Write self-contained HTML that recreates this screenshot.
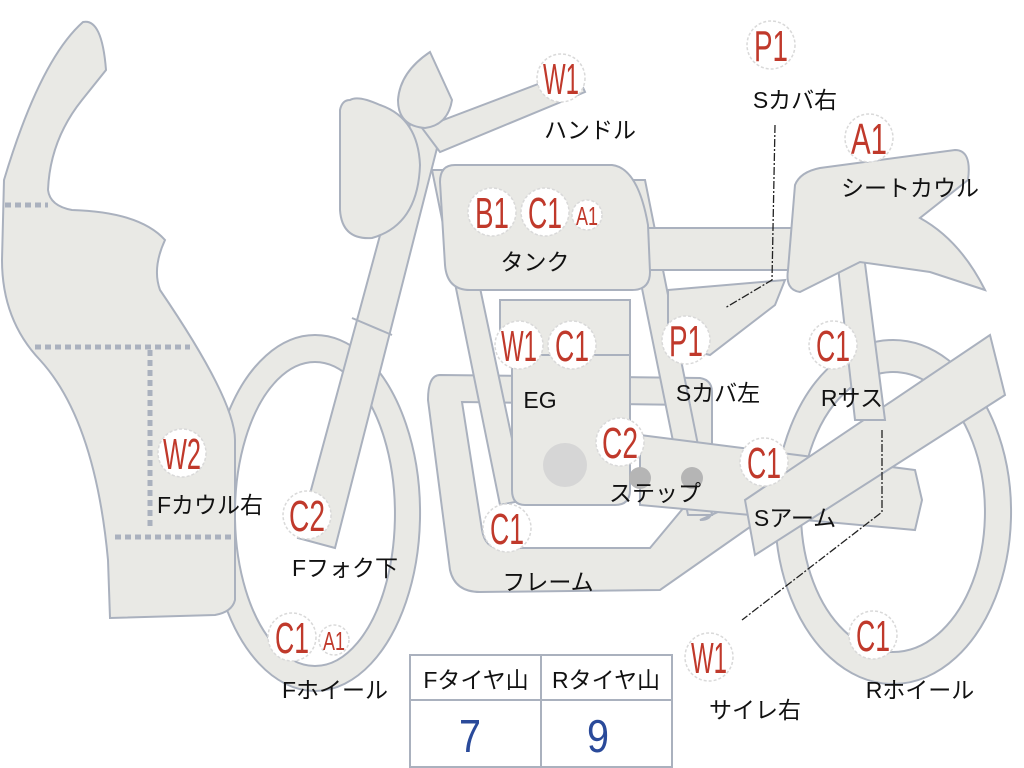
<!DOCTYPE html>
<html><head><meta charset="utf-8"><style>
html,body{margin:0;padding:0;background:#fff}
svg{display:block}
.s{fill:#e9e9e5;stroke:#aab1be;stroke-width:2}
.b circle{fill:#fff;stroke:#d9d9d9;stroke-width:1.5;stroke-dasharray:3 2}
.b text{fill:#c0392b;font-family:"Liberation Sans",sans-serif;font-size:44px;text-anchor:middle}
.l{font-family:"Liberation Sans","Noto Sans CJK JP",sans-serif;font-size:23px;fill:#111;text-anchor:middle}
</style></head><body>
<svg width="1024" height="768" viewBox="0 0 1024 768">
<path class="s" fill-rule="evenodd" d="M315,335 a105,178 0 1,0 0.1,0 Z M315,362 a80,152 0 1,1 -0.1,0 Z"/>
<path class="s" fill-rule="evenodd" d="M893,340 a118,172 0 1,0 0.1,0 Z M893,372 a92,140 0 1,1 -0.1,0 Z"/>
<path class="s" d="M83,22 Q102,18 106,70 L82,100 Q50,140 48,190 Q50,206 72,210 Q140,212 165,240 Q152,268 160,290 Q235,400 235,440 L235,600 Q232,612 215,615 L110,618 L108,560 Q95,420 40,360 Q2,320 2,260 L4,180 Q40,60 83,22 Z"/>
<g stroke="#aab1be" stroke-width="5" stroke-dasharray="6 4" fill="none">
<path d="M5,205 H48"/><path d="M35,347 H190"/><path d="M150,350 V530"/><path d="M115,537 H235"/>
</g>
<path class="s" d="M440,375 L700,378 Q712,380 712,392 L712,510 Q712,520 700,520 L745,500 L760,520 L660,590 L480,592 Q455,592 450,570 L428,400 Q428,375 440,375 Z"/>
<path d="M462,402 L690,405 L690,500 L650,548 L500,548 Q485,548 482,530 Z" fill="#fff" stroke="#aab1be" stroke-width="2"/>
<polygon class="s" points="432,170 455,170 525,500 500,505"/>
<polygon class="s" points="620,180 645,180 712,515 688,515"/>
<rect class="s" x="500" y="300" width="130" height="55"/>
<path class="s" d="M512,355 H630 V490 Q630,505 615,505 H525 Q512,505 512,490 Z"/>
<circle cx="565" cy="465" r="22" fill="#d6d6d6"/>
<polygon class="s" points="640,435 915,470 922,500 915,530 640,505"/>
<circle cx="640" cy="478" r="11" fill="#b5b5b5"/><circle cx="692" cy="478" r="11" fill="#b5b5b5"/>
<polygon class="s" points="745,500 990,335 1005,395 755,555"/>
<polygon class="s" points="835,240 862,240 885,420 855,420"/>
<rect class="s" x="638" y="228" width="165" height="42" rx="8"/>
<polygon class="s" points="668,290 785,280 775,305 710,355 668,345"/>
<path class="s" d="M795,185 Q800,172 820,168 L955,150 Q972,150 968,180 L920,218 Q960,240 985,290 L930,272 L860,262 L800,292 Q785,290 788,270 Z"/>
<path class="s" d="M455,165 H612 Q638,168 648,225 L650,272 Q650,290 632,290 H470 Q447,290 445,265 L440,182 Q440,165 455,165 Z"/>
<polygon class="s" points="418,95 448,105 335,548 298,538"/>
<line x1="352" y1="318" x2="392" y2="335" stroke="#aab1be" stroke-width="2"/>
<polygon class="s" points="422,128 575,70 585,92 440,152"/>
<path class="s" d="M350,100 Q358,95 380,105 Q418,118 420,165 Q418,225 372,238 Q342,240 340,210 L340,110 Q342,100 350,100 Z"/>
<path class="s" d="M430,52 L452,100 Q448,125 425,128 Q398,126 398,100 Q400,72 430,52 Z"/>
<path d="M775,125 L772,280 L725,308" fill="none" stroke="#222" stroke-width="1.3" stroke-dasharray="8 2 2 2"/>
<path d="M882,430 L882,512 L742,620" fill="none" stroke="#222" stroke-width="1.3" stroke-dasharray="8 2 2 2"/>
<rect x="410" y="655" width="262" height="112" fill="#fff" stroke="#aab1be" stroke-width="2"/>
<line x1="410" y1="700" x2="672" y2="700" stroke="#aab1be" stroke-width="2"/>
<line x1="541" y1="655" x2="541" y2="767" stroke="#aab1be" stroke-width="2"/>
<text class="l" x="476" y="688">Fタイヤ山</text>
<text class="l" x="606" y="688">Rタイヤ山</text>
<text x="470" y="752" font-family="Liberation Sans,sans-serif" font-size="46" fill="#2a4a9a" text-anchor="middle" textLength="22" lengthAdjust="spacingAndGlyphs">7</text>
<text x="598" y="752" font-family="Liberation Sans,sans-serif" font-size="46" fill="#2a4a9a" text-anchor="middle" textLength="22" lengthAdjust="spacingAndGlyphs">9</text>
<g class="b">
<circle cx="561" cy="78" r="24"/><text x="561" y="94" textLength="36" lengthAdjust="spacingAndGlyphs">W1</text>
<circle cx="771" cy="45" r="24"/><text x="771" y="61" textLength="34" lengthAdjust="spacingAndGlyphs">P1</text>
<circle cx="869" cy="138" r="24"/><text x="869" y="154" textLength="36" lengthAdjust="spacingAndGlyphs">A1</text>
<circle cx="492" cy="212" r="24"/><text x="492" y="228" textLength="34" lengthAdjust="spacingAndGlyphs">B1</text>
<circle cx="545" cy="212" r="24"/><text x="545" y="228" textLength="34" lengthAdjust="spacingAndGlyphs">C1</text>
<circle cx="587" cy="215" r="15"/><text x="587" y="225" style="font-size:26px" textLength="22" lengthAdjust="spacingAndGlyphs">A1</text>
<circle cx="519" cy="345" r="24"/><text x="519" y="361" textLength="36" lengthAdjust="spacingAndGlyphs">W1</text>
<circle cx="572" cy="345" r="24"/><text x="572" y="361" textLength="34" lengthAdjust="spacingAndGlyphs">C1</text>
<circle cx="686" cy="340" r="24"/><text x="686" y="356" textLength="34" lengthAdjust="spacingAndGlyphs">P1</text>
<circle cx="833" cy="345" r="24"/><text x="833" y="361" textLength="34" lengthAdjust="spacingAndGlyphs">C1</text>
<circle cx="620" cy="442" r="24"/><text x="620" y="458" textLength="36" lengthAdjust="spacingAndGlyphs">C2</text>
<circle cx="764" cy="462" r="24"/><text x="764" y="478" textLength="34" lengthAdjust="spacingAndGlyphs">C1</text>
<circle cx="182" cy="453" r="24"/><text x="182" y="469" textLength="38" lengthAdjust="spacingAndGlyphs">W2</text>
<circle cx="307" cy="515" r="24"/><text x="307" y="531" textLength="36" lengthAdjust="spacingAndGlyphs">C2</text>
<circle cx="507" cy="528" r="24"/><text x="507" y="544" textLength="34" lengthAdjust="spacingAndGlyphs">C1</text>
<circle cx="292" cy="637" r="24"/><text x="292" y="653" textLength="34" lengthAdjust="spacingAndGlyphs">C1</text>
<circle cx="334" cy="640" r="15"/><text x="334" y="650" style="font-size:26px" textLength="22" lengthAdjust="spacingAndGlyphs">A1</text>
<circle cx="709" cy="657" r="24"/><text x="709" y="673" textLength="36" lengthAdjust="spacingAndGlyphs">W1</text>
<circle cx="873" cy="635" r="24"/><text x="873" y="651" textLength="34" lengthAdjust="spacingAndGlyphs">C1</text>
</g>
<text class="l" x="590" y="138">ハンドル</text>
<text class="l" x="795" y="108">Sカバ右</text>
<text class="l" x="910" y="196">シートカウル</text>
<text class="l" x="535" y="270">タンク</text>
<text class="l" x="540" y="408">EG</text>
<text class="l" x="718" y="401">Sカバ左</text>
<text class="l" x="852" y="406">Rサス</text>
<text class="l" x="655" y="501">ステップ</text>
<text class="l" x="795" y="526">Sアーム</text>
<text class="l" x="210" y="513">Fカウル右</text>
<text class="l" x="345" y="576">Fフォク下</text>
<text class="l" x="548" y="590">フレーム</text>
<text class="l" x="335" y="698">Fホイール</text>
<text class="l" x="755" y="718">サイレ右</text>
<text class="l" x="920" y="698">Rホイール</text>
</svg>
</body></html>
